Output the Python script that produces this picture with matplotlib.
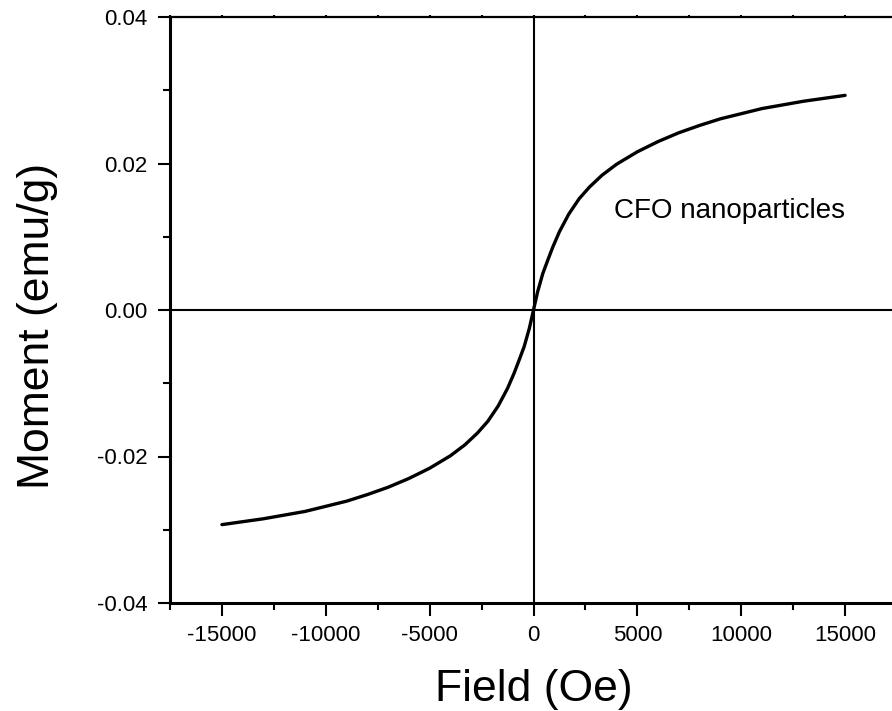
import matplotlib.pyplot as plt
from matplotlib.ticker import MultipleLocator

plt.rcParams['font.family'] = ['Liberation Sans', 'DejaVu Sans']
plt.rcParams['axes.unicode_minus'] = False

# M-H curve (Oe, emu/g)
field = [-15000, -14000, -13000, -12000, -11000, -10000, -9000, -8000, -7000,
         -6000, -5000, -4000, -3300, -2700, -2200, -1700, -1250, -930, -700,
         -450, -200, 0,
         200, 450, 700, 930, 1250, 1700, 2200, 2700, 3300, 4000, 5000,
         6000, 7000, 8000, 9000, 10000, 11000, 12000, 13000, 14000, 15000]
moment = [-0.0293, -0.0289, -0.0285, -0.0280, -0.0275, -0.0268, -0.0261, -0.0252, -0.0242,
          -0.0230, -0.0216, -0.0199, -0.0184, -0.0168, -0.0152, -0.0131, -0.0107, -0.0086, -0.0069,
          -0.0050, -0.0025, 0.0,
          0.0025, 0.0050, 0.0069, 0.0086, 0.0107, 0.0131, 0.0152, 0.0168, 0.0184, 0.0199, 0.0216,
          0.0230, 0.0242, 0.0252, 0.0261, 0.0268, 0.0275, 0.0280, 0.0285, 0.0289, 0.0293]

xticks = [-15000, -10000, -5000, 0, 5000, 10000, 15000]
yticks = [-0.04, -0.02, 0.00, 0.02, 0.04]

fig = plt.figure(figsize=(8.92, 7.11), dpi=100)
ax = fig.add_axes([170/892, 108/711, 727/892, 586/711])

ax.axhline(0, color='black', lw=1.5, zorder=1)
ax.axvline(0, color='black', lw=1.5, zorder=1)

ax.plot(field, moment, color='black', lw=2.4, solid_capstyle='round',
        solid_joinstyle='round', zorder=3)

ax.set_xlim(-17500, 17500)
ax.set_ylim(-0.04, 0.04)
ax.set_xticks(xticks)
ax.set_yticks(yticks)
ax.set_yticklabels([f'{v:.2f}' for v in yticks])
ax.xaxis.set_minor_locator(MultipleLocator(2500))
ax.yaxis.set_minor_locator(MultipleLocator(0.01))

ax.tick_params(which='major', direction='out', length=9, width=1.5, labelsize=16, pad=7,
               top=True, right=False)
ax.tick_params(which='minor', direction='out', length=5, width=1.5, top=True, right=False)
ax.xaxis.set_tick_params(which='both', labeltop=False)
for t in ax.xaxis.get_major_ticks() + ax.xaxis.get_minor_ticks():
    t.tick2line.set_markersize(1.5)

ax.spines['left'].set_linewidth(2.2)
ax.spines['bottom'].set_linewidth(2.2)
ax.spines['top'].set_linewidth(1.6)
ax.spines['right'].set_visible(False)

ax.text(9437, 0.01256, 'CFO nanoparticles', fontsize=20, ha='center', va='baseline')

fig.text(534/892, 1 - 690/711, 'Field (Oe)', fontsize=32, ha='center', va='center')
fig.text(38/892, 1 - 326/711, 'Moment (emu/g)', fontsize=32, ha='center', va='center',
         rotation=90)

fig.savefig('out.png', dpi=100)
